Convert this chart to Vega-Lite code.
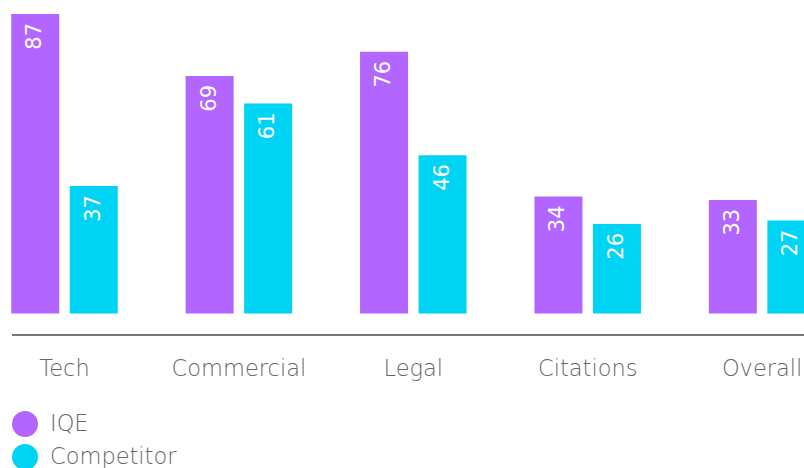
{
  "$schema": "https://vega.github.io/schema/vega-lite/v6.json",
  "width": 792,
  "height": 335,
  "autosize": {"type": "none"},
  "padding": {"left": 12, "top": 0, "right": 0, "bottom": 133},
  "config": {"view": {"stroke": null}, "font": "DejaVu Sans"},
  "data": {
    "values": [
      {"category": "Tech", "series": "IQE", "value": 87},
      {"category": "Tech", "series": "Competitor", "value": 37},
      {"category": "Commercial", "series": "IQE", "value": 69},
      {"category": "Commercial", "series": "Competitor", "value": 61},
      {"category": "Legal", "series": "IQE", "value": 76},
      {"category": "Legal", "series": "Competitor", "value": 46},
      {"category": "Citations", "series": "IQE", "value": 34},
      {"category": "Citations", "series": "Competitor", "value": 26},
      {"category": "Overall", "series": "IQE", "value": 33},
      {"category": "Overall", "series": "Competitor", "value": 27}
    ]
  },
  "encoding": {
    "x": {
      "field": "category",
      "type": "nominal",
      "sort": ["Tech", "Commercial", "Legal", "Citations", "Overall"],
      "scale": {"range": [-34.7, 837.3], "paddingInner": 0, "paddingOuter": 0},
      "axis": {
        "title": null,
        "domain": false,
        "ticks": false,
        "labelAngle": 0,
        "labelFontSize": 22.5,
        "labelColor": "#666666",
        "labelPadding": 22,
        "labelFont": "DejaVu Sans",
        "labelFontWeight": 200
      }
    },
    "xOffset": {
      "field": "series",
      "type": "nominal",
      "sort": ["IQE", "Competitor"],
      "scale": {"paddingInner": 0.1795, "paddingOuter": 0.58}
    },
    "y": {
      "field": "value",
      "type": "quantitative",
      "scale": {"domain": [-6.245, 91.06], "nice": false},
      "axis": null
    }
  },
  "layer": [
    {
      "mark": {"type": "bar"},
      "encoding": {
        "color": {
          "field": "series",
          "type": "nominal",
          "sort": ["IQE", "Competitor"],
          "scale": {"domain": ["IQE", "Competitor"], "range": ["#B266FF", "#00D4F5"]},
          "legend": {
            "title": null,
            "orient": "none",
            "legendX": 0,
            "legendY": 411,
            "direction": "vertical",
            "symbolType": "circle",
            "symbolSize": 676,
            "symbolStrokeWidth": 0,
            "labelFontSize": 22.5,
            "labelColor": "#666666",
            "labelFont": "DejaVu Sans",
            "labelFontWeight": 200,
            "labelOffset": 12,
            "rowPadding": 7,
            "padding": 0
          }
        }
      }
    },
    {
      "mark": {
        "type": "text",
        "angle": 270,
        "align": "right",
        "baseline": "middle",
        "dx": -9,
        "color": "white",
        "fontSize": 21,
        "font": "DejaVu Sans"
      },
      "encoding": {"text": {"field": "value", "type": "quantitative"}}
    },
    {
      "mark": {"type": "rule", "color": "#777777", "strokeWidth": 1},
      "encoding": {"x": null, "xOffset": null, "y": {"datum": -6.245}}
    }
  ]
}
